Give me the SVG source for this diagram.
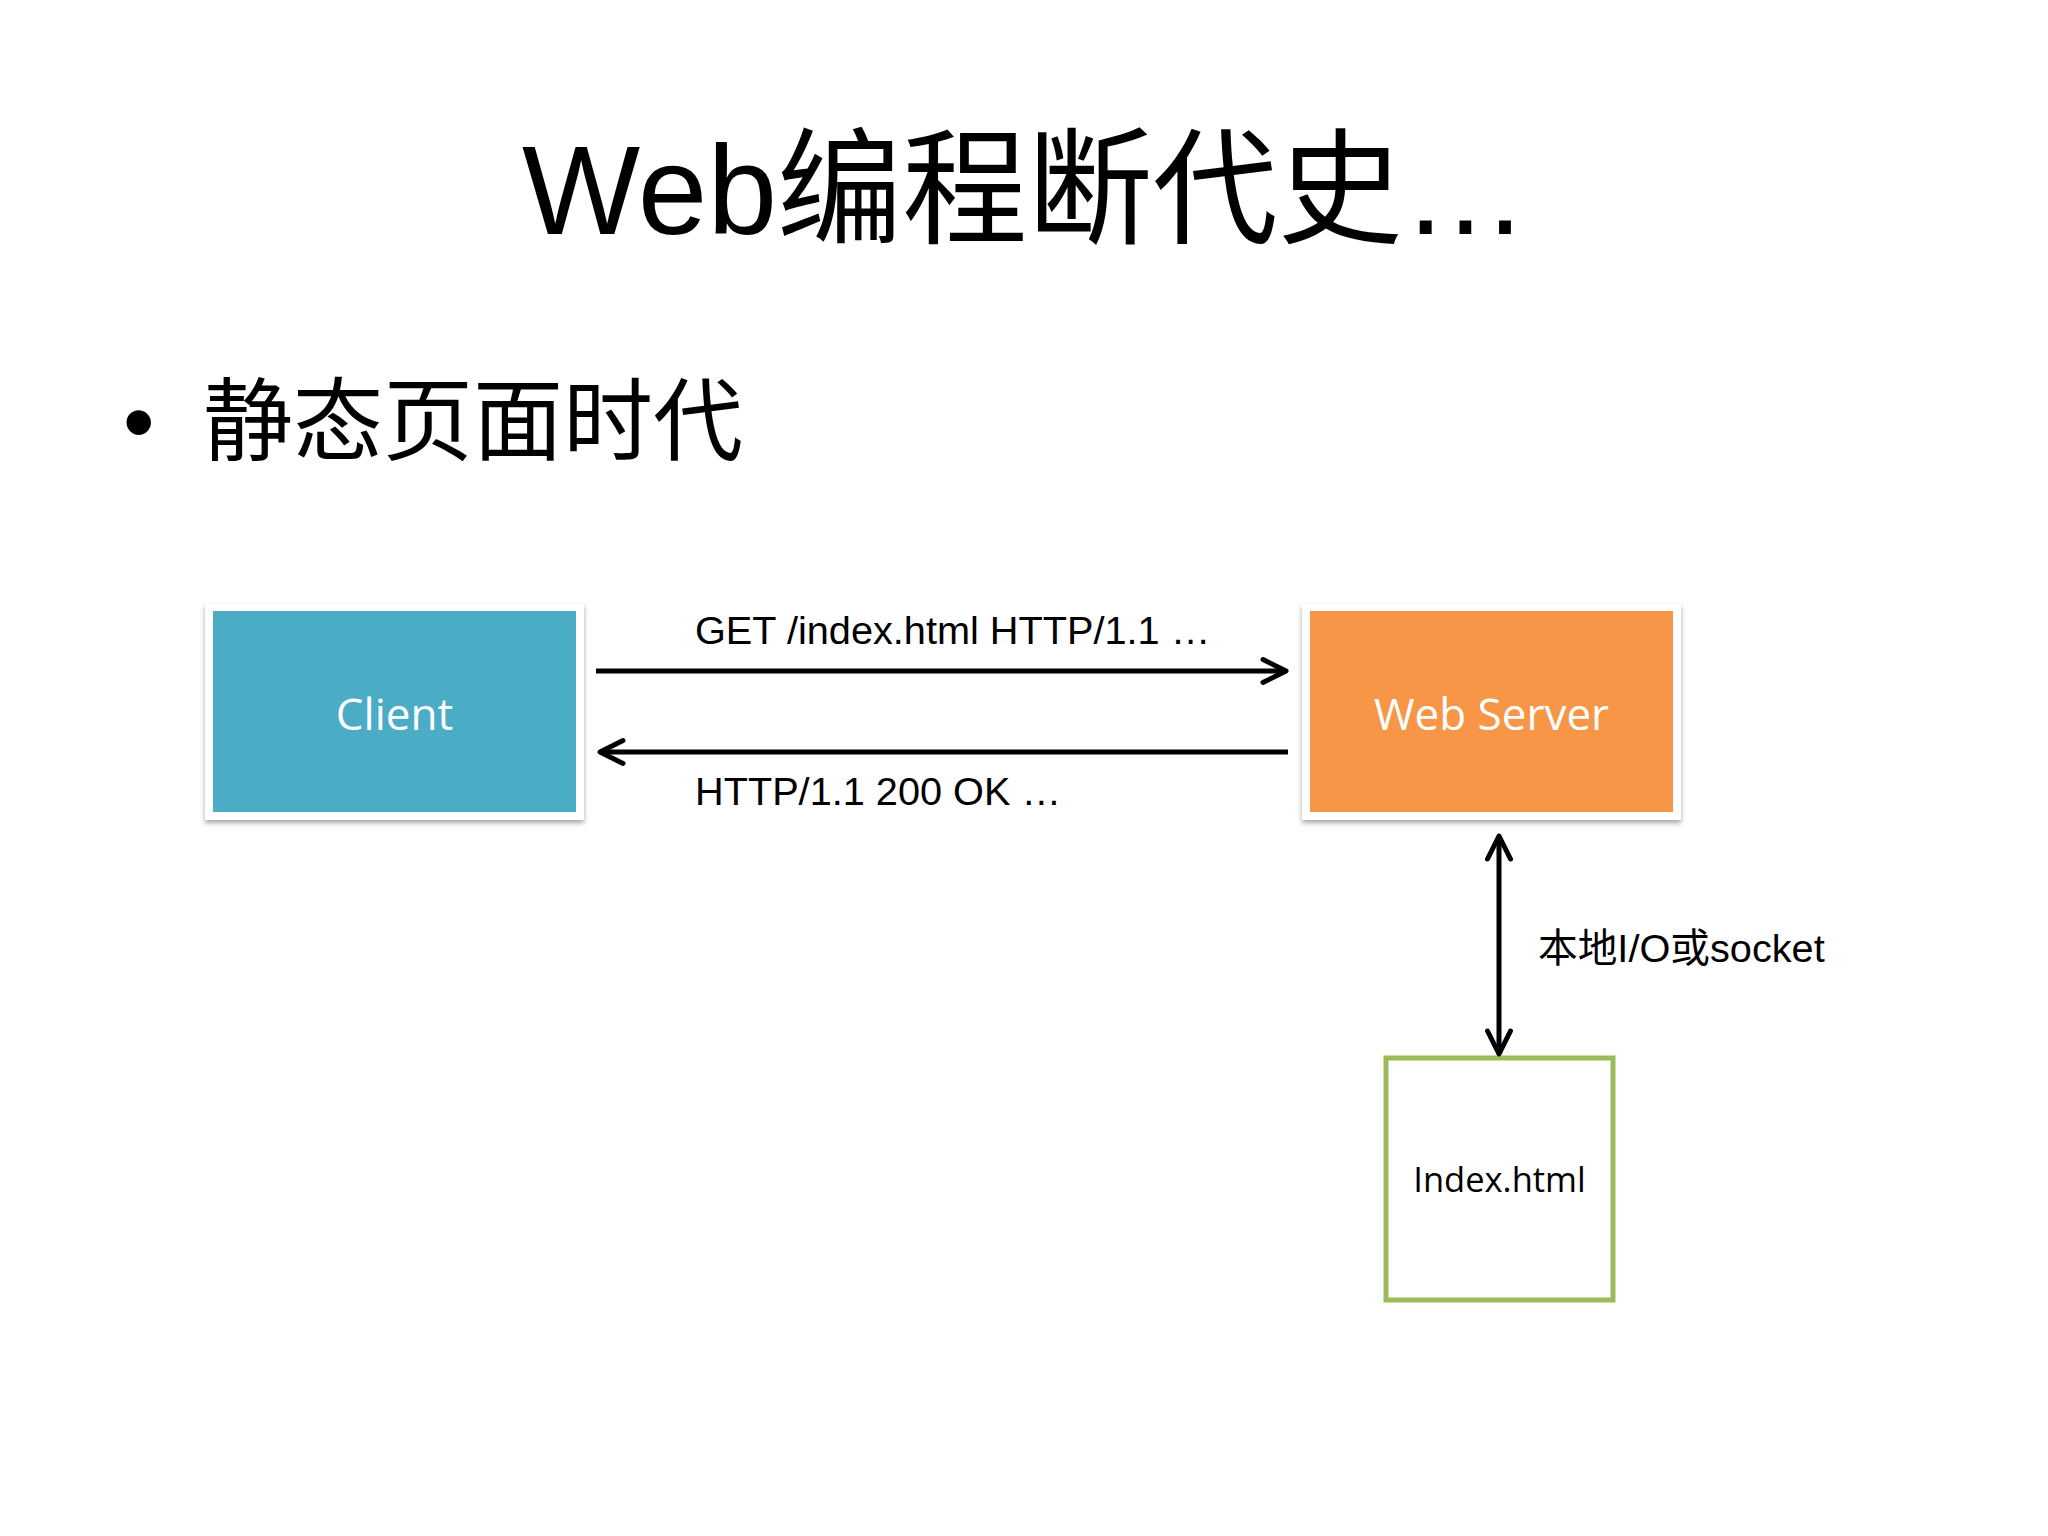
<svg xmlns="http://www.w3.org/2000/svg" width="2048" height="1536" viewBox="0 0 2048 1536">
  <defs>
    <style>
      .title { font-family: "Liberation Sans", "Noto Sans CJK SC", sans-serif; font-size: 126px; fill: #000; }
      .bullet { font-family: "Liberation Sans", "Noto Sans CJK SC", sans-serif; font-size: 90px; fill: #000; }
      .label { font-family: "Liberation Sans", "Noto Sans CJK SC", sans-serif; font-size: 39.7px; fill: #000; }
      .boxtext { font-family: "Open Sans", "Noto Sans", sans-serif; font-size: 44px; fill: #fff; text-anchor: middle; }
      .filetext { font-family: "Open Sans", "Noto Sans", sans-serif; font-size: 34.5px; fill: #000; text-anchor: middle; }
      .frame { fill: #fff; filter: url(#shadow); }
      .conn { stroke: #000; stroke-width: 5; fill: none; }
    </style>
    <filter id="shadow" x="-10%" y="-10%" width="120%" height="125%">
      <feDropShadow dx="0" dy="3" stdDeviation="2.5" flood-color="#000" flood-opacity="0.35"/>
    </filter>
    <marker id="chev" viewBox="-30 -16 34 32" refX="0" refY="0" markerWidth="34" markerHeight="32" markerUnits="userSpaceOnUse" orient="auto-start-reverse" overflow="visible">
      <path d="M -23 -11.5 L 0 0 L -23 11.5" fill="none" stroke="#000" stroke-width="5" stroke-linecap="round" stroke-linejoin="round"/>
    </marker>
  </defs>

  <rect width="2048" height="1536" fill="#fff"/>

  <text class="title" x="522" y="234" textLength="1006" lengthAdjust="spacingAndGlyphs">Web编程断代史…</text>
  <text class="bullet" x="123" y="453">•</text>
  <text class="bullet" x="203" y="453">静态页面时代</text>

  <g id="client">
    <rect class="frame" x="205" y="604" width="379" height="216"/>
    <rect x="213" y="611" width="363" height="201" fill="#4BACC6"/>
    <text class="boxtext" x="394.5" y="730">Client</text>
  </g>

  <g id="webserver">
    <rect class="frame" x="1302" y="604" width="379" height="216"/>
    <rect x="1310" y="611" width="363" height="201" fill="#F79646"/>
    <text class="boxtext" x="1491.5" y="730">Web Server</text>
  </g>

  <g id="indexhtml">
    <rect x="1386" y="1058" width="227" height="242" fill="#fff" stroke="#9BBB59" stroke-width="5"/>
    <text class="filetext" x="1499.5" y="1192">Index.html</text>
  </g>

  <g id="connectors">
    <path class="conn" d="M 596 671 L 1286 671" marker-end="url(#chev)"/>
    <path class="conn" d="M 1288 752 L 600 752" marker-end="url(#chev)"/>
    <path class="conn" d="M 1499 836 L 1499 1054" marker-start="url(#chev)" marker-end="url(#chev)"/>
    <text class="label" x="695" y="644">GET /index.html HTTP/1.1 …</text>
    <text class="label" x="695" y="805">HTTP/1.1 200 OK …</text>
    <text class="label" x="1538" y="962">本地I/O或socket</text>
  </g>
</svg>
